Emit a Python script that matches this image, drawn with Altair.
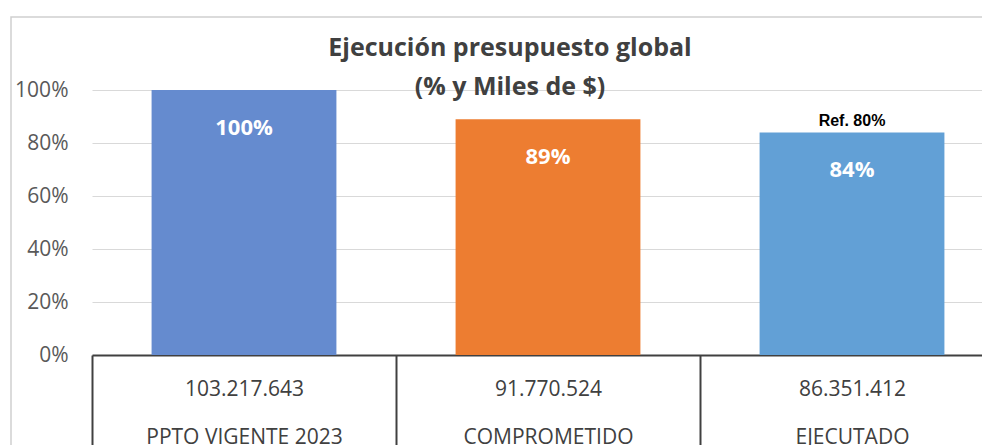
import altair as alt
import pandas as pd

categories = ["PPTO VIGENTE 2023", "COMPROMETIDO", "EJECUTADO"]
amounts = ["103.217.643", "91.770.524", "86.351.412"]
percents = [1.00, 0.89, 0.84]
bar_labels = ["100%", "89%", "84%"]
colors = ["#658BCF", "#ED7D31", "#62A0D6"]
ref_labels = ["", "", "Ref. 80%"]
y_ticks = [0, 0.2, 0.4, 0.6, 0.8, 1.0]

df = pd.DataFrame({
    "cat": [a + "|" + c for a, c in zip(amounts, categories)],
    "pct": percents,
    "lbl": bar_labels,
    "color": colors,
    "ref": ref_labels,
})

FONT = "Open Sans"

x_enc = alt.X(
    "cat:N", sort=None,
    scale=alt.Scale(paddingInner=0, paddingOuter=0, range=[0, 912]),
    axis=alt.Axis(
        title=None, labelExpr="split(datum.label, '|')", labelAngle=0,
        labelFontSize=21, labelColor="#404040", labelFont=FONT,
        labelLineHeight=48, labelPadding=-77, labelLimit=400,
        labelBaseline="top", labelAlign="center",
        tickBand="extent", tickSize=100, tickWidth=2, tickColor="#404040",
        domainColor="#404040", domainWidth=2,
    ),
)
y_enc = alt.Y(
    "pct:Q",
    scale=alt.Scale(domain=[0, 1], nice=False),
    axis=alt.Axis(
        title=None, values=y_ticks, format=".0%", labelFontSize=21,
        labelColor="#595959", labelFont=FONT, labelPadding=24, ticks=False,
        domain=False, gridColor="#d9d9d9", gridWidth=1,
    ),
)

frame = alt.Chart(pd.DataFrame({"a": [0]})).mark_rect(
    filled=False, stroke="#cfcfcf", strokeWidth=1.5
).encode(
    x=alt.value(-81), x2=alt.value(3000), y=alt.value(-73), y2=alt.value(3000)
)

base = alt.Chart(df)
bars = base.mark_bar(width=alt.RelativeBandSize(0.608)).encode(
    x=x_enc, y=y_enc, color=alt.Color("color:N", scale=None)
)
bar_text = base.mark_text(
    dy=38, color="white", fontSize=22, fontWeight="bold", font=FONT, baseline="middle"
).encode(x=x_enc, y=y_enc, text="lbl:N")
ref_text = base.mark_text(
    dy=-11, color="black", fontSize=16, fontWeight="bold", font="Liberation Sans",
    baseline="middle"
).encode(x=x_enc, y=y_enc, text="ref:N")

chart = alt.layer(frame, bars, bar_text, ref_text).properties(
    width=890, height=265,
    autosize="none",
    padding={"left": 84, "top": 82, "right": 0, "bottom": 90},
    title=alt.TitleParams(
        text=["Ejecución presupuesto global", "(% y Miles de $)"],
        fontSize=25, fontWeight="bold", font=FONT, color="#404040",
        anchor="middle", dx=-27, dy=84, lineHeight=39, baseline="top", offset=0,
    ),
).configure_view(stroke=None)

chart.save("out.html", embed_options={"renderer": "svg", "actions": False})
